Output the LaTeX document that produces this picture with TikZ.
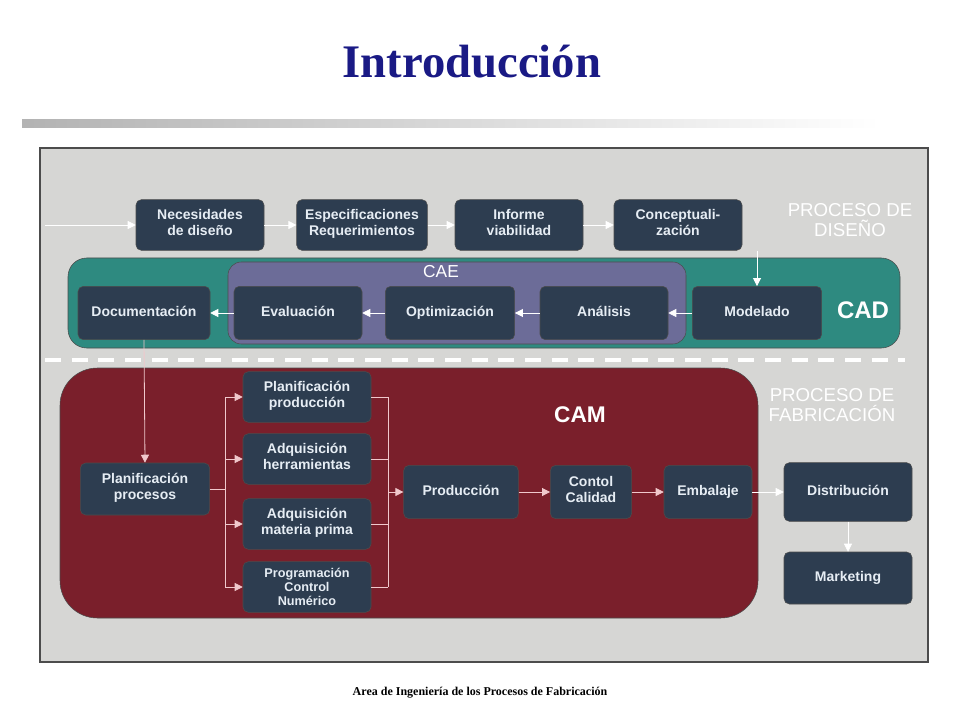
\documentclass[tikz,border=0pt]{standalone}
\usepackage{fontspec}
\setmainfont{Liberation Serif}
\newfontfamily\boxfont{Liberation Sans}
\usetikzlibrary{arrows.meta}
\definecolor{boxc}{HTML}{2D3D50}
\definecolor{bgc}{HTML}{D6D6D4}
\definecolor{cadc}{HTML}{2E8A80}
\definecolor{caec}{HTML}{6C6C98}
\definecolor{camc}{HTML}{7A1F2B}
\definecolor{titc}{HTML}{1A1A85}
\definecolor{txtc}{HTML}{E6EDF4}
\definecolor{pinkc}{HTML}{F0C8CC}
\begin{document}
\begin{tikzpicture}[x=0.75pt,y=-0.75pt,
  bx/.style={draw=black!70,fill=boxc,rounded corners=4pt,text=txtc,font=\boxfont\bfseries\fontsize{10.5}{12}\selectfont\strut,align=center,inner sep=0pt},
  wa/.style={draw=white,line width=0.6pt,-{Triangle[length=6pt,width=6pt]}},
  pa/.style={draw=pinkc,line width=0.6pt,-{Triangle[length=6pt,width=6pt]}},
  pl/.style={draw=pinkc,line width=0.6pt},
  lbl/.style={text=white,font=\boxfont\fontsize{14}{15}\selectfont,align=center}]
\useasboundingbox (0,0) rectangle (960,720);
\fill[white] (0,0) rectangle (960,720);
\node[text=titc,font=\bfseries\fontsize{35}{40}\selectfont] (title) at (472,62) {Introducción};
\shade[left color=black!30,right color=white] (22,120) rectangle (880,128);
\fill[bgc,draw=black!70,line width=1pt] (40,148) rectangle (928,662);
% bands
\fill[cadc,draw=black!70,rounded corners=14pt] (68,258) rectangle (900,348);
\fill[caec,draw=black!70,rounded corners=10pt] (228,262) rectangle (686,344);
\node[lbl,font=\boxfont\fontsize{13}{14}\selectfont] (cae) at (441,272) {CAE};
\node[lbl,font=\boxfont\bfseries\fontsize{18}{20}\selectfont] (cad) at (863,310) {CAD};
\draw[white,dashed,line width=2.5pt,dash pattern=on 12pt off 8pt] (45,360) -- (905,360);
\fill[camc,draw=black!70,rounded corners=28pt] (60,368) rectangle (758,618);
\node[lbl,font=\boxfont\bfseries\fontsize{17}{19}\selectfont] (cam) at (580,415) {CAM};
\node[lbl] (pd) at (850,220) {PROCESO DE\\DISEÑO};
\node[lbl] (pf) at (832,405) {PROCESO DE\\FABRICACIÓN};
% top row
\node[bx,minimum width=96pt,minimum height=38pt] (nec) at (200,225) {Necesidades\\de diseño};
\node[bx,minimum width=98pt,minimum height=38pt] (esp) at (362,225) {Especificaciones\\Requerimientos};
\node[bx,minimum width=96pt,minimum height=38pt] (inf) at (519,225) {Informe\\viabilidad};
\node[bx,minimum width=96pt,minimum height=38pt] (con) at (678,225) {Conceptuali-\\zación};
% second row
\node[bx,minimum width=99pt,minimum height=40pt] (doc) at (144,313) {Documentación};
\node[bx,minimum width=96pt,minimum height=40pt] (eva) at (298,313) {Evaluación};
\node[bx,minimum width=97pt,minimum height=40pt] (opt) at (450,313) {Optimización};
\node[bx,minimum width=96pt,minimum height=40pt] (ana) at (604,313) {Análisis};
\node[bx,minimum width=97pt,minimum height=40pt] (mod) at (757,313) {Modelado};
% CAM
\node[bx,minimum width=97pt,minimum height=39pt] (ppr) at (145,489) {Planificación\\procesos};
\node[bx,minimum width=96pt,minimum height=38pt] (ppd) at (307,397) {Planificación\\producción};
\node[bx,minimum width=96pt,minimum height=38pt] (ahe) at (307,459) {Adquisición\\herramientas};
\node[bx,minimum width=96pt,minimum height=38pt] (amp) at (307,524) {Adquisición\\materia prima};
\node[bx,minimum width=96pt,minimum height=38pt,font=\boxfont\bfseries\fontsize{9.5}{10.5}\selectfont] (pcn) at (307,587) {Programación\\Control\\Numérico};
\node[bx,minimum width=86pt,minimum height=40pt] (pro) at (461,492) {Producción};
\node[bx,minimum width=61pt,minimum height=40pt] (cca) at (591,492) {Contol\\Calidad};
\node[bx,minimum width=66pt,minimum height=40pt] (emb) at (708,492) {Embalaje};
\node[bx,minimum width=96pt,minimum height=44pt] (dis) at (848,492) {Distribución};
\node[bx,minimum width=96pt,minimum height=39pt] (mar) at (848,578) {Marketing};
\coordinate (start) at (45,225);
% arrows
\draw[wa] (start) -- (nec);
\draw[wa] (nec) -- (esp);
\draw[wa] (esp) -- (inf);
\draw[wa] (inf) -- (con);
\draw[wa] (con.south -| mod.north) -- (mod.north);
\draw[wa] (mod) -- (ana);
\draw[wa] (ana) -- (opt);
\draw[wa] (opt) -- (eva);
\draw[wa] (eva) -- (doc);
\draw[pa] (doc.south) -- (ppr.north);
\coordinate (br) at (225,489);
\draw[pl] (ppr.east) -- (br);
\draw[pl] (br |- ppd) -- (br |- pcn);
\foreach \n in {ppd,ahe,amp,pcn} \draw[pa] (br |- \n) -- (\n.west);
\coordinate (mg) at (388,492);
\foreach \n in {ppd,ahe,amp,pcn} \draw[pl] (\n.east) -- (mg |- \n);
\draw[pl] (mg |- ppd) -- (mg |- pcn);
\draw[pa] (mg) -- (pro.west);
\draw[pa] (pro) -- (cca);
\draw[pa] (cca) -- (emb);
\draw[wa] (emb) -- (dis);
\draw[wa] (dis) -- (mar);
\node[font=\bfseries\fontsize{9}{10}\selectfont] (foot) at (480,693) {Area de Ingeniería de los Procesos de Fabricación};
\end{tikzpicture}
\end{document}
